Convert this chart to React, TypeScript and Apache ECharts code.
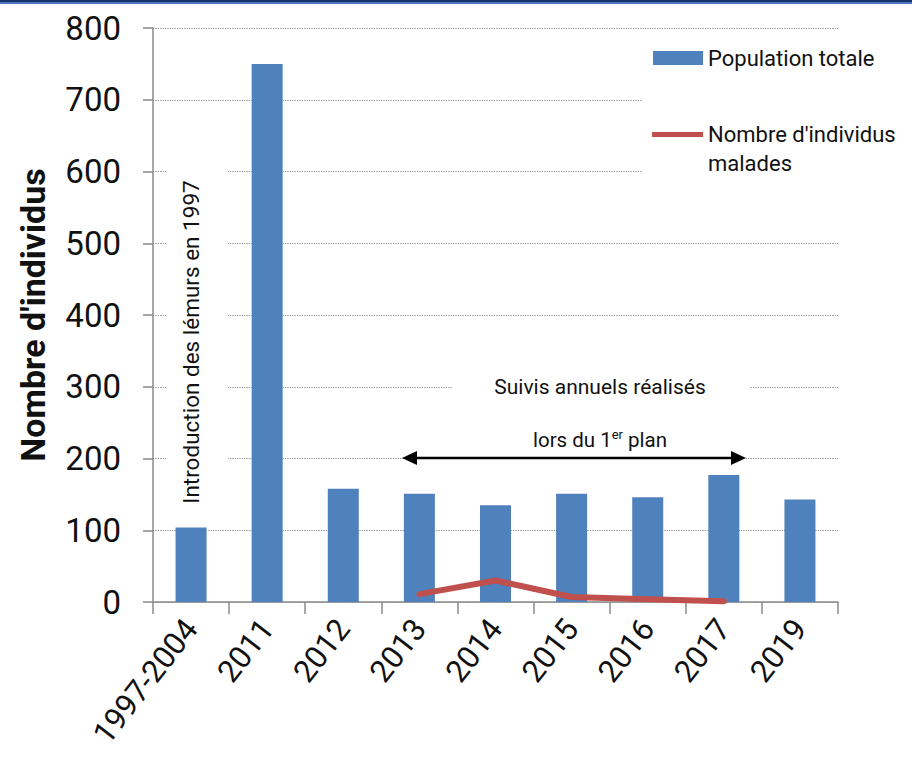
import React, { useEffect, useRef } from "react";
import * as echarts from "echarts";

const categories = ["1997-2004", "2011", "2012", "2013", "2014", "2015", "2016", "2017", "2019"];
const populationTotale = [104, 750, 158, 151, 135, 151, 146, 177, 143];
const individusMalades: (number | null)[] = [null, null, null, 11, 30, 7, 4, 1, null];
const yMin = 0;
const yMax = 800;
const yInterval = 100;

const seriesNames = ["Population totale", "Nombre d'individus malades"];
const annotationIntro = "Introduction des lémurs en 1997";
const annotationSuivis = "Suivis annuels réalisés";

const FONT = "Roboto, 'Noto Sans', sans-serif";
const TXT = "#111111";

export default function App() {
  const ref = useRef<HTMLDivElement>(null);

  useEffect(() => {
    if (!ref.current) return;
    const chart = echarts.init(ref.current, undefined, { renderer: "svg" });
    const option: any = {
      animation: false,
      backgroundColor: "#ffffff",
      grid: { left: 153, right: 74, top: 28, bottom: 160, containLabel: false },
      legend: [
        {
          data: [{ name: seriesNames[0], icon: "rect" }],
          left: 653,
          top: 47,
          padding: 0,
          itemWidth: 50,
          itemHeight: 14,
          textStyle: { fontFamily: FONT, fontSize: 22, color: TXT },
        },
        {
          data: [{ name: seriesNames[1], icon: "rect" }],
          left: 652,
          top: 91,
          padding: 0,
          itemWidth: 51,
          itemHeight: 5,
          formatter: () => "\nNombre d'individus\nmalades",
          textStyle: {
            fontFamily: FONT,
            fontSize: 22,
            color: TXT,
            lineHeight: 29,
          },
        },
      ],
      xAxis: {
        type: "category",
        data: categories,
        boundaryGap: true,
        axisLine: { show: true, lineStyle: { color: "#8a8a8a", width: 1.5 } },
        axisTick: { show: true, length: 12, alignWithLabel: false, lineStyle: { color: "#8a8a8a", width: 1.5 } },
        axisLabel: {
          interval: 0,
          rotate: 52,
          margin: 21,
          fontFamily: FONT,
          fontSize: 31,
          color: TXT,
        },
      },
      yAxis: {
        type: "value",
        min: yMin,
        max: yMax,
        interval: yInterval,
        name: "Nombre d'individus",
        nameLocation: "middle",
        nameRotate: 90,
        nameGap: 103,
        nameTextStyle: { fontFamily: FONT, fontSize: 34, fontWeight: "bold", color: TXT },
        axisLine: { show: true, lineStyle: { color: "#8a8a8a", width: 1.5 } },
        axisTick: { show: true, length: 10, lineStyle: { color: "#8a8a8a", width: 1.5 } },
        axisLabel: { margin: 32, fontFamily: FONT, fontSize: 33, color: TXT },
        splitLine: { show: true, lineStyle: { type: "dotted", color: "#8c8c8c", width: 1.2 } },
      },
      series: [
        {
          name: seriesNames[0],
          type: "bar",
          data: populationTotale,
          barWidth: 31,
          itemStyle: { color: "#4f81bd" },
          z: 2,
        },
        {
          name: seriesNames[1],
          type: "line",
          data: individusMalades,
          symbol: "none",
          connectNulls: false,
          lineStyle: { color: "#c0504d", width: 6, cap: "round", join: "round" },
          itemStyle: { color: "#c0504d" },
          z: 3,
        },
      ],
      graphic: [
        { type: "rect", z: 10, shape: { x: 0, y: 0, width: 912, height: 2 }, style: { fill: "#16306a" } },
        { type: "rect", z: 10, shape: { x: 0, y: 2, width: 912, height: 2 }, style: { fill: "#4f74ba" } },
        // white box behind the legend
        { type: "rect", z: 1, shape: { x: 642, y: 40, width: 270, height: 160 }, style: { fill: "#ffffff" } },
        // intro annotation
        { type: "rect", z: 1, shape: { x: 166, y: 166, width: 62, height: 350 }, style: { fill: "#ffffff" } },
        {
          type: "text",
          z: 5,
          x: 191,
          y: 342,
          rotation: Math.PI / 2,
          style: {
            text: annotationIntro,
            fontFamily: FONT,
            fontSize: 22.5,
            fill: TXT,
            textAlign: "center",
            textVerticalAlign: "middle",
          },
        },
        // suivis annotation
        { type: "rect", z: 1, shape: { x: 452, y: 368, width: 298, height: 38 }, style: { fill: "#ffffff" } },
        {
          type: "text",
          z: 5,
          x: 600,
          y: 387,
          style: {
            text: annotationSuivis,
            fontFamily: FONT,
            fontSize: 21,
            fill: TXT,
            textAlign: "center",
            textVerticalAlign: "middle",
          },
        },
        {
          type: "text",
          z: 5,
          x: 600,
          y: 440,
          style: {
            text: "{a|lors du 1}{s|er}{a| plan}",
            textAlign: "center",
            textVerticalAlign: "middle",
            rich: {
              a: { fontFamily: FONT, fontSize: 20.5, fill: TXT, lineHeight: 26 },
              s: { fontFamily: FONT, fontSize: 13, fill: TXT, padding: [0, 0, 12, 0] },
            },
          },
        },
        // double arrow
        {
          type: "line",
          z: 5,
          shape: { x1: 414, y1: 458, x2: 733, y2: 458 },
          style: { stroke: "#000000", lineWidth: 2.5 },
        },
        {
          type: "polygon",
          z: 5,
          shape: { points: [[402, 458], [417, 451], [417, 465]] },
          style: { fill: "#000000" },
        },
        {
          type: "polygon",
          z: 5,
          shape: { points: [[746, 458], [731, 451], [731, 465]] },
          style: { fill: "#000000" },
        },
      ],
    };
    chart.setOption(option);
    return () => chart.dispose();
  }, []);

  return (
    <div
      ref={ref}
      style={{ position: "fixed", left: 0, top: 0, width: 912, height: 762, background: "#fff" }}
    />
  );
}
